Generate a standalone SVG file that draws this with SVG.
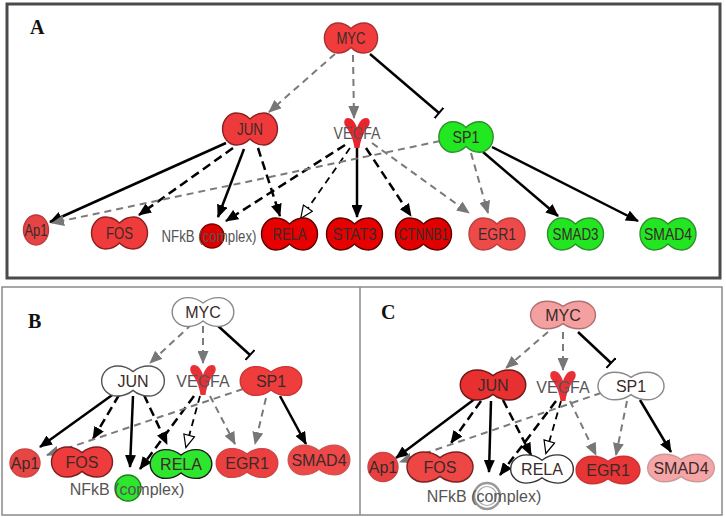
<svg xmlns="http://www.w3.org/2000/svg" xmlns:xlink="http://www.w3.org/1999/xlink" width="726" height="517" viewBox="0 0 726 517">
<style>
.frameA{fill:none;stroke:#4a4a4a;stroke-width:3}
.frameBC{fill:none;stroke:#8a8a8a;stroke-width:1.5}
.panel{font-family:"Liberation Serif","Times New Roman",serif;font-weight:bold;font-size:20px;fill:#111}
.lbl{font-family:"Liberation Sans",Arial,sans-serif;font-size:16px;fill:#3a2a2a;text-anchor:middle}
.lblA{font-size:17px}
.gt{fill:#555}
.s{stroke:#000;stroke-width:2.5;fill:none;marker-end:url(#ab)}
.d{stroke:#000;stroke-width:2.5;stroke-dasharray:9 5;fill:none;marker-end:url(#ab)}
.o{stroke:#000;stroke-width:1.8;stroke-dasharray:7 5;fill:none;marker-end:url(#ao)}
.g{stroke:#7a7a7a;stroke-width:2;stroke-dasharray:7 5;fill:none;marker-end:url(#ag)}
.t{stroke:#000;stroke-width:2.5;fill:none;marker-end:url(#tee)}
.node{stroke-width:1.4}
</style>
<defs>
<path id="pn" vector-effect="non-scaling-stroke" d="M0,-10 C4,-14 8,-16 14,-16 A14,16 0 0 1 14,16 C8,16 4,14 0,10 C-4,14 -8,16 -14,16 A14,16 0 0 1 -14,-16 C-8,-16 -4,-14 0,-10 Z"/>
<path id="gf" d="M0,-5 C2,-11 5,-15 9,-15 C13,-15 14,-10 11,-6 C8,-2 4,4 2.5,15 L-2.5,15 C-4,4 -8,-2 -11,-6 C-14,-10 -13,-15 -9,-15 C-5,-15 -2,-11 0,-5 Z"/>
<marker id="ab" markerUnits="userSpaceOnUse" viewBox="0 0 13 11" markerWidth="13" markerHeight="11" refX="12" refY="5.5" orient="auto"><path d="M0,0 L13,5.5 L0,11 Z" fill="#000"/></marker>
<marker id="ag" markerUnits="userSpaceOnUse" viewBox="0 0 13 11" markerWidth="13" markerHeight="11" refX="12" refY="5.5" orient="auto"><path d="M0,0 L13,5.5 L0,11 Z" fill="#777"/></marker>
<marker id="ao" markerUnits="userSpaceOnUse" viewBox="0 0 15 13" markerWidth="15" markerHeight="13" refX="13" refY="6.5" orient="auto"><path d="M1,1 L13.5,6.5 L1,12 Z" fill="#fff" stroke="#000" stroke-width="1.2"/></marker>
<marker id="tee" markerUnits="userSpaceOnUse" viewBox="0 -7 3 14" markerWidth="3" markerHeight="14" refX="1.5" refY="0" orient="auto"><path d="M1.5,-7 V7" stroke="#000" stroke-width="2"/></marker>
</defs>
<rect width="726" height="517" fill="#fff"/>
<rect class="frameA" x="7" y="4" width="713" height="274"/>
<rect class="frameBC" x="2" y="287" width="720" height="228"/>
<line class="frameBC" x1="360" y1="287" x2="360" y2="515"/>
<text class="panel" x="30" y="34">A</text>
<text class="panel" x="28" y="328">B</text>
<text class="panel" x="381" y="319">C</text>

<g id="connectors">
<!-- Panel A -->
<line class="g" x1="335" y1="54" x2="269" y2="112"/>
<line class="g" x1="353" y1="55" x2="354" y2="118"/>
<line class="t" x1="370" y1="54" x2="439" y2="113"/>
<line class="s" x1="226" y1="143" x2="50" y2="222"/>
<line class="d" x1="233" y1="148" x2="139" y2="215"/>
<line class="s" x1="244" y1="149" x2="218" y2="217"/>
<line class="d" x1="258" y1="148" x2="280" y2="216"/>
<line class="d" x1="345" y1="145" x2="226" y2="221"/>
<line class="o" x1="350" y1="148" x2="301" y2="218"/>
<line class="s" x1="357" y1="148" x2="357" y2="217"/>
<line class="d" x1="366" y1="148" x2="411" y2="216"/>
<line class="g" x1="372" y1="143" x2="469" y2="213"/>
<line class="g" x1="471" y1="153" x2="488" y2="213"/>
<line class="g" x1="440" y1="141" x2="52" y2="223"/>
<line class="s" x1="483" y1="152" x2="558" y2="216"/>
<line class="s" x1="492" y1="147" x2="638" y2="221"/>
<!-- Panel B -->
<line class="g" x1="192" y1="324" x2="150" y2="363"/>
<line class="g" x1="203" y1="326" x2="203" y2="363"/>
<line class="t" x1="217" y1="325" x2="250" y2="355"/>
<line class="s" x1="115" y1="393" x2="40" y2="447"/>
<line class="d" x1="119" y1="395" x2="93" y2="439"/>
<line class="s" x1="133" y1="396" x2="130" y2="467"/>
<line class="d" x1="144" y1="395" x2="167" y2="444"/>
<line class="d" x1="194" y1="396" x2="140" y2="469"/>
<line class="o" x1="200" y1="396" x2="186" y2="447"/>
<line class="g" x1="210" y1="396" x2="235" y2="444"/>
<line class="g" x1="266" y1="398" x2="255" y2="444"/>
<line class="g" x1="243" y1="389" x2="47" y2="455"/>
<line class="s" x1="280" y1="396" x2="306" y2="444"/>
<!-- Panel C -->
<line class="g" x1="548" y1="332" x2="506" y2="368"/>
<line class="g" x1="563" y1="332" x2="563" y2="370"/>
<line class="t" x1="578" y1="332" x2="611" y2="363"/>
<line class="s" x1="476" y1="398" x2="396" y2="458"/>
<line class="d" x1="481" y1="401" x2="451" y2="443"/>
<line class="s" x1="491" y1="401" x2="489" y2="472"/>
<line class="d" x1="503" y1="400" x2="531" y2="455"/>
<line class="d" x1="556" y1="401" x2="500" y2="475"/>
<line class="o" x1="561" y1="401" x2="546" y2="453"/>
<line class="g" x1="570" y1="401" x2="596" y2="455"/>
<line class="g" x1="627" y1="401" x2="616" y2="455"/>
<line class="g" x1="601" y1="393" x2="400" y2="462"/>
<line class="s" x1="640" y1="400" x2="671" y2="452"/>
</g>

<!-- Panel A nodes -->
<g id="A-MYC"><use xlink:href="#pn" class="node" transform="translate(351,38) scale(0.95,0.94)" fill="#f03c3c" stroke="#a83030"/><text class="lbl lblA" x="351" y="44" textLength="29" lengthAdjust="spacingAndGlyphs">MYC</text></g>
<g id="A-JUN"><use xlink:href="#pn" class="node" transform="translate(250,129) scale(0.98,1)" fill="#ee3a3a" stroke="#8a2020"/><text class="lbl lblA" x="250" y="135" textLength="26" lengthAdjust="spacingAndGlyphs">JUN</text></g>
<g id="A-VEGFA"><use xlink:href="#gf" transform="translate(357,133)" fill="#e8242c"/><text class="lbl lblA gt" x="357" y="139" textLength="47" lengthAdjust="spacingAndGlyphs">VEGFA</text></g>
<g id="A-SP1"><use xlink:href="#pn" class="node" transform="translate(466,137) scale(0.97,0.95)" fill="#22e822" stroke="#2f8f2f"/><text class="lbl lblA" x="466" y="143" textLength="27" lengthAdjust="spacingAndGlyphs">SP1</text></g>
<g id="A-Ap1"><ellipse class="node" cx="36" cy="230" rx="12.5" ry="15" fill="#e54444" stroke="#c03535"/><text class="lbl lblA" x="36" y="236" textLength="23" lengthAdjust="spacingAndGlyphs">Ap1</text></g>
<g id="A-FOS"><use xlink:href="#pn" class="node" transform="translate(119.5,233)" fill="#ef3b3b" stroke="#8a2020"/><text class="lbl lblA" x="119.5" y="239" textLength="27" lengthAdjust="spacingAndGlyphs">FOS</text></g>
<g id="A-NFkB"><circle class="node" cx="212" cy="236" r="12" fill="#dd0000" stroke="#800000"/><text class="lbl lblA gt" transform="translate(209,242) scale(0.78,1)" x="0" y="0">NFkB (complex)</text></g>
<g id="A-RELA"><use xlink:href="#pn" class="node" transform="translate(289.5,234)" fill="#e60000" stroke="#5a0000"/><text class="lbl lblA" x="289.5" y="240" textLength="34" lengthAdjust="spacingAndGlyphs">RELA</text></g>
<g id="A-STAT3"><use xlink:href="#pn" class="node" transform="translate(354.5,234)" fill="#e60000" stroke="#5a0000"/><text class="lbl lblA" x="354.5" y="240" textLength="44" lengthAdjust="spacingAndGlyphs">STAT3</text></g>
<g id="A-CTNNB1"><use xlink:href="#pn" class="node" transform="translate(423.5,234)" fill="#e00000" stroke="#5a0000"/><text class="lbl lblA" x="423.5" y="240" textLength="50" lengthAdjust="spacingAndGlyphs">CTNNB1</text></g>
<g id="A-EGR1"><use xlink:href="#pn" class="node" transform="translate(497,234)" fill="#ef4a4a" stroke="#b84040"/><text class="lbl lblA" x="497" y="240" textLength="38" lengthAdjust="spacingAndGlyphs">EGR1</text></g>
<g id="A-SMAD3"><use xlink:href="#pn" class="node" transform="translate(575.5,234)" fill="#22e622" stroke="#2f8f2f"/><text class="lbl lblA" x="575.5" y="240" textLength="46" lengthAdjust="spacingAndGlyphs">SMAD3</text></g>
<g id="A-SMAD4"><use xlink:href="#pn" class="node" transform="translate(668,234)" fill="#22e622" stroke="#2f8f2f"/><text class="lbl lblA" x="668" y="240" textLength="48" lengthAdjust="spacingAndGlyphs">SMAD4</text></g>

<!-- Panel B nodes -->
<g id="B-MYC"><use xlink:href="#pn" class="node" transform="translate(203,312) scale(1.1,0.9)" fill="#fff" stroke="#888"/><text class="lbl" x="203" y="318">MYC</text></g>
<g id="B-JUN"><use xlink:href="#pn" class="node" transform="translate(133,381) scale(1.12,0.94)" fill="#fff" stroke="#555"/><text class="lbl" x="133" y="387">JUN</text></g>
<g id="B-VEGFA"><use xlink:href="#gf" transform="translate(203,380)" fill="#e83036"/><text class="lbl gt" x="203" y="387">VEGFA</text></g>
<g id="B-SP1"><use xlink:href="#pn" class="node" transform="translate(271,381) scale(1.1,0.9)" fill="#ef3c3c" stroke="#c33"/><text class="lbl" x="271" y="387">SP1</text></g>
<g id="B-Ap1"><ellipse class="node" cx="25" cy="463" rx="15" ry="14" fill="#e84545" stroke="#c44"/><text class="lbl" x="25" y="469">Ap1</text></g>
<g id="B-FOS"><use xlink:href="#pn" class="node" transform="translate(82,462) scale(1.09,0.94)" fill="#ee3c3c" stroke="#7a2020"/><text class="lbl" x="82" y="468">FOS</text></g>
<g id="B-NFkB"><circle class="node" cx="128" cy="488" r="13" fill="#2ee62e" stroke="#1f7f1f"/><text class="lbl gt" x="127" y="495">NFkB (complex)</text></g>
<g id="B-RELA"><use xlink:href="#pn" class="node" transform="translate(181,464) scale(1.1,0.9)" fill="#2ee62e" stroke="#1a1a1a"/><text class="lbl" x="181" y="470">RELA</text></g>
<g id="B-EGR1"><use xlink:href="#pn" class="node" transform="translate(247,463) scale(1.1,0.9)" fill="#ec4040" stroke="#c44"/><text class="lbl" x="247" y="469">EGR1</text></g>
<g id="B-SMAD4"><use xlink:href="#pn" class="node" transform="translate(319,460) scale(1.1,0.92)" fill="#ee4848" stroke="#c55"/><text class="lbl" x="319" y="466">SMAD4</text></g>

<!-- Panel C nodes -->
<g id="C-MYC"><use xlink:href="#pn" class="node" transform="translate(563,315) scale(1.16,0.86)" fill="#f4a0a0" stroke="#b07070"/><text class="lbl" x="563" y="321">MYC</text></g>
<g id="C-JUN"><use xlink:href="#pn" class="node" transform="translate(493,385) scale(1.17,0.94)" fill="#e83030" stroke="#701818"/><text class="lbl" x="493" y="391">JUN</text></g>
<g id="C-VEGFA"><use xlink:href="#gf" transform="translate(563,386)" fill="#e83036"/><text class="lbl gt" x="563" y="393">VEGFA</text></g>
<g id="C-SP1"><use xlink:href="#pn" class="node" transform="translate(631,386) scale(1.18,0.86)" fill="#fff" stroke="#888"/><text class="lbl" x="631" y="392">SP1</text></g>
<g id="C-Ap1"><ellipse class="node" cx="383" cy="467" rx="15" ry="14.5" fill="#e84040" stroke="#c44"/><text class="lbl" x="383" y="473">Ap1</text></g>
<g id="C-FOS"><use xlink:href="#pn" class="node" transform="translate(440,467) scale(1.18,0.94)" fill="#ee4545" stroke="#7a2020"/><text class="lbl" x="440" y="473">FOS</text></g>
<g id="C-NFkB"><circle cx="487" cy="496" r="13" fill="#fff" stroke="#999" stroke-width="2.5"/><circle cx="487" cy="496" r="9.5" fill="none" stroke="#aaa" stroke-width="1.2"/><text class="lbl gt" x="484" y="502">NFkB (complex)</text></g>
<g id="C-RELA"><use xlink:href="#pn" class="node" transform="translate(542,469) scale(1.12,0.88)" fill="#fff" stroke="#333"/><text class="lbl" x="542" y="475">RELA</text></g>
<g id="C-EGR1"><use xlink:href="#pn" class="node" transform="translate(608,470) scale(1.14,0.86)" fill="#e83535" stroke="#c33"/><text class="lbl" x="608" y="476">EGR1</text></g>
<g id="C-SMAD4"><use xlink:href="#pn" class="node" transform="translate(681,468) scale(1.19,0.86)" fill="#f5a5a5" stroke="#c99"/><text class="lbl" x="681" y="474">SMAD4</text></g>
</svg>
